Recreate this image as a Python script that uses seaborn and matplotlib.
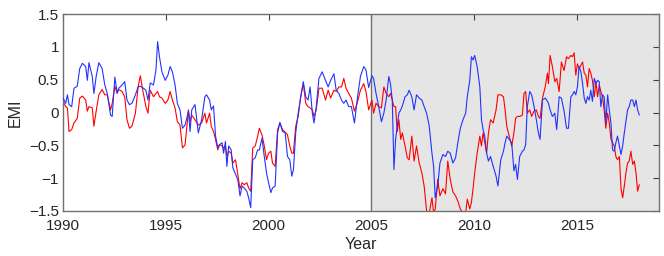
import numpy as np
import pandas as pd
import matplotlib
matplotlib.use('Agg')
import matplotlib.pyplot as plt
import seaborn as sns

# EMI index values (decimal years)
years = [
    1990.00, 1990.13, 1990.21, 1990.29, 1990.42, 1990.53, 1990.69, 1990.81, 1990.94, 1991.10,
    1991.18, 1991.26, 1991.42, 1991.50, 1991.61, 1991.74, 1991.90, 1992.03, 1992.15, 1992.31,
    1992.39, 1992.52, 1992.63, 1992.71, 1992.87, 1993.00, 1993.11, 1993.23, 1993.35, 1993.52,
    1993.65, 1993.76, 1993.87, 1994.03, 1994.13, 1994.24, 1994.40, 1994.52, 1994.60, 1994.69,
    1994.81, 1994.97, 1995.10, 1995.21, 1995.32, 1995.45, 1995.56, 1995.69, 1995.81, 1995.94,
    1996.10, 1996.18, 1996.26, 1996.42, 1996.58, 1996.74, 1996.90, 1996.98,
    1997.13, 1997.21, 1997.32, 1997.42, 1997.53, 1997.61, 1997.74, 1997.81, 1997.90, 1997.97,
    1998.06, 1998.18, 1998.26, 1998.39, 1998.50, 1998.61, 1998.71, 1998.82, 1998.94, 1999.03,
    1999.13, 1999.23, 1999.35, 1999.47, 1999.55, 1999.68, 1999.79, 1999.90, 2000.00, 2000.11,
    2000.19, 2000.32, 2000.44, 2000.55, 2000.68, 2000.81, 2000.92, 2001.03, 2001.13, 2001.21,
    2001.32, 2001.44, 2001.56, 2001.69, 2001.81, 2001.92, 2002.02, 2002.13, 2002.21, 2002.32,
    2002.45, 2002.61, 2002.77, 2002.90, 2003.02, 2003.18, 2003.29, 2003.42, 2003.55, 2003.66,
    2003.77, 2003.90, 2004.03, 2004.18, 2004.31, 2004.47, 2004.63, 2004.74, 2004.87, 2005.03,
    2005.11, 2005.23, 2005.36, 2005.49, 2005.61, 2005.72, 2005.85, 2005.93, 2006.02, 2006.10,
    2006.18, 2006.26, 2006.34, 2006.43, 2006.51, 2006.64, 2006.75, 2006.84, 2006.97, 2007.08,
    2007.20, 2007.33, 2007.46, 2007.57, 2007.69, 2007.82, 2007.95, 2008.03, 2008.11, 2008.23,
    2008.34, 2008.48, 2008.61, 2008.72, 2008.84, 2008.97, 2009.10, 2009.21, 2009.33, 2009.46,
    2009.59, 2009.67, 2009.79, 2009.87, 2009.95, 2010.03, 2010.15, 2010.28, 2010.36, 2010.44,
    2010.52, 2010.61, 2010.70, 2010.80, 2010.93, 2011.07, 2011.16, 2011.30, 2011.43, 2011.51,
    2011.59,
    2011.83, 2011.94, 2012.02, 2012.11, 2012.22, 2012.35, 2012.43, 2012.51, 2012.59, 2012.71,
    2012.80, 2012.92, 2013.03, 2013.13, 2013.21, 2013.33, 2013.46, 2013.57, 2013.62, 2013.70,
    2013.81, 2013.93, 2014.02, 2014.14, 2014.25, 2014.38, 2014.50, 2014.59, 2014.71, 2014.79,
    2014.87, 2014.95, 2015.03, 2015.11, 2015.20, 2015.28, 2015.36, 2015.44, 2015.52, 2015.60,
    2015.68, 2015.76, 2015.85, 2015.93, 2016.01, 2016.09, 2016.17, 2016.25, 2016.33, 2016.41,
    2016.50, 2016.58, 2016.66, 2016.74, 2016.82, 2016.90, 2016.98, 2017.07, 2017.15, 2017.23,
    2017.31, 2017.39, 2017.47, 2017.55, 2017.63, 2017.72, 2017.80, 2017.88, 2017.96, 2018.04,
]

emi_blue = [
    0.22, 0.14, 0.27, 0.12, 0.09, 0.37, 0.40, 0.67, 0.75, 0.70,
    0.49, 0.76, 0.55, 0.29, 0.55, 0.76, 0.67, 0.42, 0.29, -0.04,
    -0.06, 0.54, 0.30, 0.37, 0.42, 0.47, 0.19, 0.12, 0.14, 0.27,
    0.39, 0.40, 0.38, 0.34, 0.19, 0.45, 0.42, 0.65, 1.08, 0.85,
    0.62, 0.49, 0.57, 0.70, 0.62, 0.42, 0.14, 0.04, -0.24, -0.19,
    0.02, -0.29, 0.04, 0.12, -0.31, -0.11, 0.24, 0.27,
    0.19, 0.04, 0.10, -0.36, -0.54, -0.49, -0.46, -0.62, -0.44, -0.82,
    -0.51, -0.57, -0.84, -0.94, -1.02, -1.27, -1.12, -1.15, -1.20, -1.30,
    -1.45, -0.72, -0.69, -0.57, -0.57, -0.39, -0.67, -0.92, -1.07, -1.22,
    -1.15, -1.12, -0.31, -0.15, -0.29, -0.31, -0.67, -0.72, -0.97, -0.87,
    -0.31, -0.01, 0.22, 0.47, 0.24, 0.19, 0.39, -0.01, -0.16, 0.09,
    0.52, 0.62, 0.49, 0.39, 0.49, 0.59, 0.34, 0.29, 0.19, 0.14,
    0.19, 0.09, 0.09, -0.16, 0.19, 0.55, 0.70, 0.65, 0.38, 0.56,
    0.52, 0.29, 0.09, -0.14, -0.01, 0.19, 0.55, 0.44, 0.19, -0.87,
    -0.41, -0.21, -0.01, 0.04, 0.10, 0.24, 0.27, 0.34, 0.24, 0.04,
    0.27, 0.22, 0.19, 0.09, -0.01, -0.21, -0.62, -0.82, -1.30, -1.12,
    -0.77, -0.64, -0.67, -0.59, -0.62, -0.77, -0.69, -0.46, -0.24, -0.11,
    -0.01, 0.24, 0.49, 0.85, 0.80, 0.87, 0.70, 0.39, -0.11, -0.26,
    -0.36, -0.62, -0.74, -0.67, -0.82, -0.97, -1.12, -0.72, -0.59, -0.46,
    -0.36,
    -0.46, -0.89, -0.79, -1.02, -0.67, -0.59, -0.57, -0.49, 0.09, 0.32,
    0.27, 0.09, -0.11, -0.31, -0.41, 0.19, 0.22, 0.17, 0.14, 0.04,
    -0.06, -0.01, -0.26, 0.24, 0.22, 0.02, -0.24, -0.24, 0.24, 0.27,
    0.32, 0.27, 0.39, 0.70, 0.62, 0.44, 0.22, 0.14, 0.24, 0.19,
    0.34, 0.17, 0.52, 0.44, 0.49, 0.47, 0.09, 0.27, 0.24, -0.16,
    0.27, 0.04, -0.16, -0.57, -0.59, -0.46, -0.36, -0.51, -0.64, -0.51,
    -0.31, -0.14, 0.04, 0.09, 0.19, 0.19, 0.09, 0.19, 0.04, -0.04,
]

emi_red = [
    0.17, 0.09, 0.07, -0.29, -0.26, -0.16, -0.09, 0.22, 0.25, 0.19,
    0.02, 0.09, 0.07, -0.21, 0.02, 0.27, 0.35, 0.27, 0.27, 0.04,
    0.14, 0.40, 0.29, 0.35, 0.32, 0.24, -0.11, -0.24, -0.21, -0.01,
    0.39, 0.56, 0.35, 0.09, -0.01, 0.34, 0.24, 0.29, 0.32, 0.24,
    0.22, 0.14, 0.19, 0.32, 0.19, 0.07, -0.14, -0.19, -0.54, -0.49,
    0.04, -0.14, -0.04, -0.11, -0.19, -0.16, -0.01, -0.16,
    -0.01, -0.21, -0.29, -0.41, -0.57, -0.49, -0.51, -0.54, -0.51, -0.67,
    -0.59, -0.62, -0.77, -0.72, -0.94, -1.16, -1.07, -1.10, -1.07, -1.15,
    -1.20, -0.54, -0.51, -0.36, -0.24, -0.34, -0.51, -0.72, -0.62, -0.59,
    -0.77, -0.82, -0.26, -0.16, -0.26, -0.30, -0.34, -0.51, -0.62, -0.62,
    -0.21, -0.06, 0.24, 0.44, 0.14, 0.09, 0.07, 0.04, -0.06, 0.04,
    0.37, 0.37, 0.19, 0.34, 0.22, 0.34, 0.32, 0.39, 0.39, 0.52,
    0.37, 0.29, 0.22, 0.02, 0.14, 0.34, 0.44, 0.32, 0.04, 0.19,
    -0.01, 0.14, 0.09, 0.07, 0.39, 0.29, 0.24, 0.29, 0.19, 0.09,
    0.09, -0.29, -0.11, -0.41, -0.31, -0.51, -0.69, -0.72, -0.36, -0.74,
    -0.51, -0.77, -0.92, -1.12, -1.50, -1.53, -1.30, -1.53, -1.47, -1.02,
    -1.27, -1.16, -1.24, -0.74, -1.02, -1.21, -1.27, -1.35, -1.47, -1.53,
    -1.53, -1.32, -1.47, -1.37, -1.16, -0.92, -0.62, -0.36, -0.51, -0.31,
    -0.46, -0.62, -0.31, -0.11, -0.16, 0.04, 0.27, 0.27, 0.24, 0.04,
    -0.21,
    -0.51, -0.31, -0.09, -0.06, -0.06, -0.04, 0.29, 0.32, -0.01, 0.04,
    -0.06, 0.02, 0.04, -0.06, -0.09, 0.22, 0.39, 0.60, 0.44, 0.87,
    0.70, 0.47, 0.52, 0.32, 0.77, 0.64, 0.85, 0.82, 0.87, 0.85,
    0.91, 0.57, 0.74, 0.67, 0.72, 0.77, 0.60, 0.57, 0.39, 0.67,
    0.60, 0.49, 0.24, 0.47, 0.24, 0.42, 0.32, 0.24, 0.04, -0.24,
    -0.01, -0.16, -0.41, -0.46, -0.51, -0.67, -0.72, -0.67, -1.16, -1.30,
    -1.12, -0.92, -0.77, -0.74, -0.59, -0.79, -0.74, -0.92, -1.20, -1.10,
]

y_ticks = [-1.5, -1, -0.5, 0, 0.5, 1, 1.5]
y_ticklabels = ['\u22121.5', '\u22121', '\u22120.5', '0', '0.5', '1', '1.5']
x_ticks = [1990, 1995, 2000, 2005, 2010, 2015]

df = pd.DataFrame({'Year': years, 'blue': emi_blue, 'red': emi_red})

sns.set_style('white')
plt.rcParams['font.family'] = ['Liberation Sans', 'DejaVu Sans']

fig = plt.figure(figsize=(6.64, 2.56), dpi=100)
ax = fig.add_axes([0.095, 0.176, 0.8975, 0.769])

# shaded period after 2005
ax.axvspan(2005, 2019, color='#e5e5e5', lw=0, zorder=0)
ax.axvline(2005, color='#707070', lw=1, zorder=1)

sns.lineplot(data=df, x='Year', y='red', color='#ff0000', lw=0.8, ax=ax, zorder=2)
sns.lineplot(data=df, x='Year', y='blue', color='#2233ff', lw=0.8, ax=ax, zorder=3)

ax.set_xlim(1990, 2019)
ax.set_ylim(-1.5, 1.5)
ax.set_xticks(x_ticks)
ax.set_yticks(y_ticks)
ax.set_yticklabels(y_ticklabels)
ax.tick_params(direction='in', length=4, width=0.8, color='#404040',
               top=True, right=True, labelsize=11)
ax.tick_params(axis='x', pad=6)
ax.tick_params(axis='y', pad=3)
for s in ax.spines.values():
    s.set_color('#707070')
    s.set_linewidth(1)
ax.set_xlabel('Year', fontsize=11.5)
ax.set_ylabel('EMI', fontsize=11.5)
ax.xaxis.set_label_coords(0.5, -0.13)
ax.yaxis.set_label_coords(-0.068, 0.5)

plt.savefig('out.png', dpi=100)
